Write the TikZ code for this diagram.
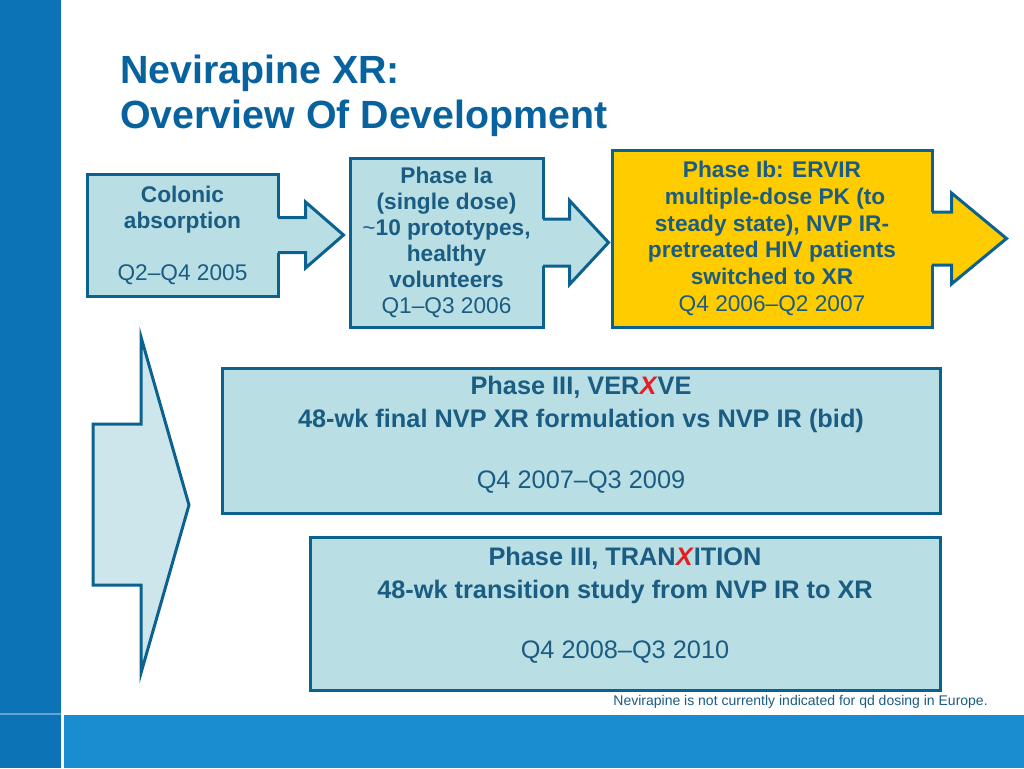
\documentclass[tikz,border=0pt]{standalone}
\usepackage{fontspec}
\setmainfont{Liberation Sans}
\usetikzlibrary{positioning}
\definecolor{azulfondo}{RGB}{12,116,182}
\definecolor{azulbanda}{RGB}{26,140,208}
\definecolor{azultitulo}{RGB}{8,98,158}
\definecolor{azultexto}{RGB}{26,92,130}
\definecolor{azulborde}{RGB}{12,98,142}
\definecolor{celeste}{RGB}{185,223,228}
\definecolor{celesteclaro}{RGB}{204,230,235}
\definecolor{amarillo}{RGB}{255,204,0}
\definecolor{rojo}{RGB}{228,30,36}
\tikzstyle{fase} = [
    rectangle, inner sep=0pt, align=center, draw=azulborde, line width=2.25pt,
    fill=celeste, text=azultexto, font=\fontsize{17pt}{19.5pt}\selectfont
]
\tikzstyle{faselarga} = [
    fase, font=\fontsize{19pt}{24.75pt}\selectfont
]
\tikzstyle{flecha} = [draw=azulborde, line width=2.25pt, line join=miter]

\begin{document}
\begin{tikzpicture}[x=0.75pt, y=-0.75pt]
\useasboundingbox (0,0) rectangle (1024,768);

% Fondo
\fill[azulfondo] (0,0) rectangle (61,768);
\fill[azulbanda] (64,715) rectangle (1024,768);
\fill[white!35!azulfondo] (0,713) rectangle (61,715);

% Titulo
\node (titulo) [anchor=north west, inner sep=0pt, align=left, text=azultitulo,
    font=\fontsize{29.5pt}{33.75pt}\selectfont\bfseries] at (120,55)
    {Nevirapine XR:\\Overview Of Development};

% Fila 1
\node (n0) [fase, minimum width=143.25pt, minimum height=91.5pt] at (182.5,235)
    {\textbf{Colonic}\\\textbf{absorption}\\[19.5pt]Q2--Q4 2005};
\node (n1) [fase, minimum width=144.75pt, minimum height=126.75pt] at (446.5,242.5)
    {\textbf{Phase Ia}\\\textbf{(single dose)}\\\textasciitilde\textbf{10 prototypes,}\\
    \textbf{healthy}\\\textbf{volunteers}\\Q1--Q3 2006};
\node (n2) [fase, fill=amarillo, minimum width=240pt, minimum height=132.75pt,
    font=\fontsize{17pt}{20pt}\selectfont] at (772,238.5)
    {\textbf{Phase Ib: ERVIR}\\\textbf{\ multiple-dose PK (to}\\\textbf{steady state), NVP IR-}\\
    \textbf{pretreated HIV patients}\\\textbf{switched to XR}\\Q4 2006--Q2 2007};

% Flechas de la fila 1 (relleno, luego borde)
\fill[celeste] ([shift={(-5,-17.5)}]n0.east) -- ([shift={(26,-17.5)}]n0.east)
    -- ([shift={(26,-33)}]n0.east) -- ([shift={(64,0)}]n0.east)
    -- ([shift={(26,33)}]n0.east) -- ([shift={(26,17.5)}]n0.east)
    -- ([shift={(-5,17.5)}]n0.east) -- cycle;
\draw[flecha] ([shift={(-1.5,-17.5)}]n0.east) -- ([shift={(26,-17.5)}]n0.east)
    -- ([shift={(26,-33)}]n0.east) -- ([shift={(64,0)}]n0.east)
    -- ([shift={(26,33)}]n0.east) -- ([shift={(26,17.5)}]n0.east)
    -- ([shift={(-1.5,17.5)}]n0.east);
\fill[celeste] ([shift={(-5,-23.5)}]n1.east) -- ([shift={(25,-23.5)}]n1.east)
    -- ([shift={(25,-42)}]n1.east) -- ([shift={(64,0)}]n1.east)
    -- ([shift={(25,42)}]n1.east) -- ([shift={(25,23.5)}]n1.east)
    -- ([shift={(-5,23.5)}]n1.east) -- cycle;
\draw[flecha] ([shift={(-1.5,-23.5)}]n1.east) -- ([shift={(25,-23.5)}]n1.east)
    -- ([shift={(25,-42)}]n1.east) -- ([shift={(64,0)}]n1.east)
    -- ([shift={(25,42)}]n1.east) -- ([shift={(25,23.5)}]n1.east)
    -- ([shift={(-1.5,23.5)}]n1.east);
\fill[amarillo] ([shift={(-5,-26.5)}]n2.east) -- ([shift={(18,-26.5)}]n2.east)
    -- ([shift={(18,-45.5)}]n2.east) -- ([shift={(73,0)}]n2.east)
    -- ([shift={(18,45.5)}]n2.east) -- ([shift={(18,26.5)}]n2.east)
    -- ([shift={(-5,26.5)}]n2.east) -- cycle;
\draw[flecha] ([shift={(-1.5,-26.5)}]n2.east) -- ([shift={(18,-26.5)}]n2.east)
    -- ([shift={(18,-45.5)}]n2.east) -- ([shift={(73,0)}]n2.east)
    -- ([shift={(18,45.5)}]n2.east) -- ([shift={(18,26.5)}]n2.east)
    -- ([shift={(-1.5,26.5)}]n2.east);

% Flecha grande
\filldraw[flecha, fill=celesteclaro] (93,424) -- (141,424) -- (141,337) -- (189,505)
    -- (141,673) -- (141,585) -- (93,585) -- cycle;

% Fase III
\node (n3) [faselarga, minimum width=538.5pt, minimum height=108.75pt, text depth=13pt] at (581,440.5)
    {\textbf{Phase III, VER\textcolor{rojo}{\textit{X}}VE}\\
    \textbf{48-wk final NVP XR formulation vs NVP IR (bid)}\\[21pt]Q4 2007--Q3 2009};
\node (n4) [faselarga, minimum width=472.5pt, minimum height=114.75pt, text depth=16pt] at (625,613.5)
    {\textbf{Phase III, TRAN\textcolor{rojo}{\textit{X}}ITION}\\
    \textbf{48-wk transition study from NVP IR to XR}\\[20pt]Q4 2008--Q3 2010};

% Nota
\node (nota) [anchor=east, inner sep=0pt, text=azultexto, font=\fontsize{10.5pt}{12pt}\selectfont]
    at (988,702) {Nevirapine is not currently indicated for qd dosing in Europe.};

\end{tikzpicture}
\end{document}
